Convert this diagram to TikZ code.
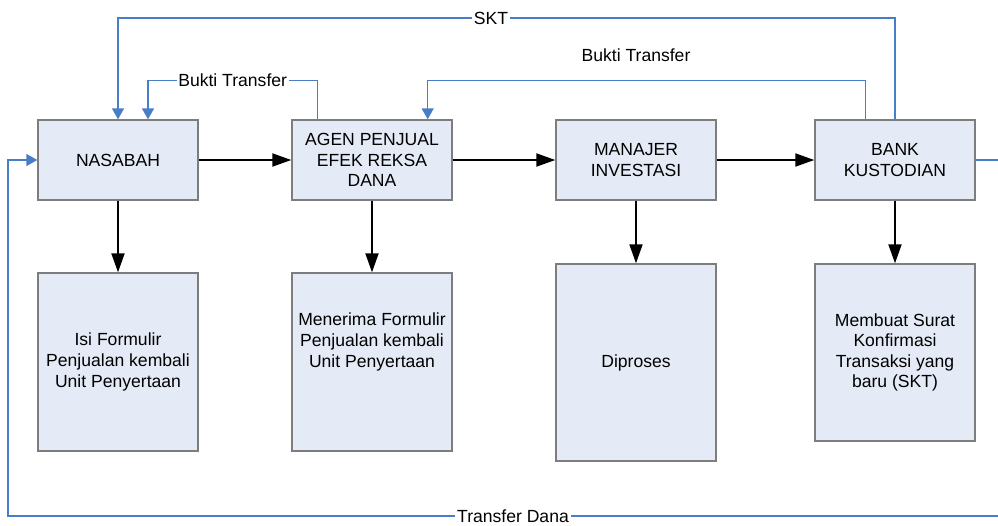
\documentclass[tikz,border=0pt]{standalone}
\usepackage{fontspec}
\setmainfont{Liberation Sans}
\usetikzlibrary{positioning}
\usetikzlibrary{calc}
\usetikzlibrary{arrows.meta}
\definecolor{boxfill}{RGB}{229,235,246}
\definecolor{boxline}{RGB}{125,125,125}
\definecolor{flow}{RGB}{72,125,200}
\begin{document}
\begin{tikzpicture}[x=0.02cm,y=-0.02cm,
pb/.style={draw=boxline,fill=boxfill,line width=0.8pt,minimum width=3.2cm,minimum height=1.6cm,align=center,inner sep=1pt,font=\fontsize{10}{11.7}\selectfont},
tx/.style={align=center,inner sep=1pt,font=\fontsize{10}{11.7}\selectfont},
blk/.style={line width=1.1pt,-{Triangle[length=3.8mm,width=2.6mm]}},
blu/.style={draw=flow,line width=0.8pt,-{Triangle[length=2.2mm,width=2.4mm]}},
lbl/.style={fill=white,inner sep=1pt,font=\fontsize{10}{12}\selectfont}]
\useasboundingbox (0,0) rectangle (998,525);
\node (nas) at (118,160) [pb] {NASABAH};
\node (agen) at (372,160) [pb] {AGEN PENJUAL\\EFEK REKSA\\DANA};
\node (mi) at (636,160) [pb] {MANAJER\\INVESTASI};
\node (bk) at (895,160) [pb] {BANK\\KUSTODIAN};
\node (f1) at (118,362) [pb,minimum height=3.56cm] {Isi Formulir\\Penjualan kembali\\Unit Penyertaan};
\node (f2) at (372,362) [pb,minimum height=3.56cm] {};
\node (f2t) at (372,342) [tx] {Menerima Formulir\\Penjualan kembali\\Unit Penyertaan};
\node (f3) at (636,362.5) [pb,minimum height=3.94cm] {Diproses};
\node (f4) at (895,352.5) [pb,minimum height=3.54cm] {Membuat Surat\\Konfirmasi\\Transaksi yang\\baru (SKT)};
\foreach \a/\b in {nas/agen,agen/mi,mi/bk,nas/f1,agen/f2,mi/f3,bk/f4} {
\draw[blk] (\a) -- (\b);
}
\draw[blu] (bk.north) -- (bk.north |- 0,18) -- node[lbl,pos=0.52] {SKT} (nas.north |- 0,18) -- (nas.north);
\draw[blu] ($(agen.north west)+(26,0)$) -- ($(agen.north west)+(26,-39)$) -- node[lbl] {Bukti Transfer} ($(nas.north)+(30,-39)$) -- ($(nas.north)+(30,0)$);
\draw[blu] ($(bk.north west)+(51,0)$) -- ($(bk.north west)+(51,-39)$) -- node[pos=0.524,above=9pt,inner sep=1pt,font=\fontsize{10}{12}\selectfont] {Bukti Transfer} ($(agen.north east)+(-25,-39)$) -- ($(agen.north east)+(-25,0)$);
\coordinate (re) at (1010,160);
\draw[blu] (bk.east) -- (re) -- (re |- 0,516) -- node[lbl,pos=0.496] {Transfer Dana} (8,516) -- (8,160) -- (nas.west);
\end{tikzpicture}
\end{document}
